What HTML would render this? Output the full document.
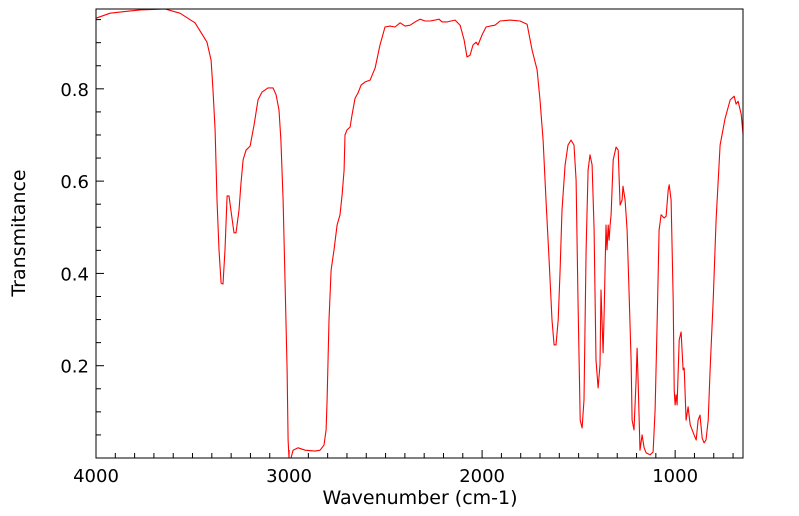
<!DOCTYPE html>
<html><head><meta charset="utf-8"><style>
html,body{margin:0;padding:0;background:#fff;}
svg{display:block;font-family:"DejaVu Sans","Liberation Sans",sans-serif;}
</style></head><body>
<svg id="chart" width="799" height="516" viewBox="0 0 799 516" xmlns="http://www.w3.org/2000/svg">
<rect x="0" y="0" width="799" height="516" fill="#fff"/>
<g id="ticks"></g>
<g id="labels"></g>
<polyline id="spectrum" fill="none" stroke="#ff0000" stroke-width="1.1" stroke-linejoin="round"/>
<rect x="96" y="9" width="647" height="449" fill="none" stroke="#000" stroke-width="1"/>
<text x="420" y="504" font-size="19" text-anchor="middle">Wavenumber (cm-1)</text>
<text transform="translate(25,233) rotate(-90)" font-size="19" text-anchor="middle">Transmitance</text>
</svg>
<script>
const wavenumbers=[4000,3927,3772,3642,3565,3487,3425,3404,3394,3383,3373,3363,3352,3342,3332,3321,3311,3301,3285,3275,3259,3249,3238,3223,3202,3181,3161,3140,3109,3083,3067,3052,3042,3031,3021,3010,3005,3000,2990,2979,2953,2917,2865,2839,2819,2808,2803,2793,2782,2767,2751,2736,2725,2715,2710,2700,2684,2674,2658,2643,2627,2606,2580,2554,2529,2503,2477,2451,2425,2399,2373,2347,2321,2295,2270,2244,2223,2207,2181,2161,2140,2114,2093,2078,2062,2047,2031,2021,2000,1979,1959,1933,1907,1855,1803,1767,1741,1715,1700,1684,1669,1653,1638,1627,1617,1606,1596,1586,1570,1555,1539,1524,1513,1503,1492,1482,1472,1461,1451,1441,1430,1420,1410,1399,1389,1384,1373,1368,1358,1353,1347,1342,1337,1332,1321,1306,1295,1290,1285,1275,1270,1259,1249,1239,1228,1223,1213,1202,1197,1192,1182,1171,1161,1150,1130,1114,1104,1093,1083,1073,1057,1047,1036,1031,1021,1010,1005,1000,995,990,979,969,959,953,943,933,922,902,891,881,871,860,850,840,829,819,803,788,767,741,715,694,684,674,658,648];
const transmittance=[.953,.964,.971,.973,.964,.943,.901,.862,.797,.711,.559,.451,.379,.377,.451,.568,.568,.537,.488,.488,.537,.596,.646,.667,.676,.722,.776,.793,.802,.802,.787,.754,.689,.559,.386,.191,.039,0,0,.017,.022,.017,.015,.017,.028,.061,.126,.299,.407,.451,.505,.527,.570,.624,.700,.711,.717,.743,.780,.791,.808,.815,.819,.845,.895,.934,.936,.934,.943,.936,.938,.945,.951,.947,.947,.949,.951,.945,.945,.947,.949,.938,.906,.869,.873,.895,.901,.895,.917,.934,.936,.938,.947,.949,.947,.940,.884,.841,.776,.689,.559,.429,.299,.245,.245,.299,.407,.537,.635,.678,.689,.678,.602,.342,.082,.065,.126,.451,.624,.657,.635,.494,.212,.152,.202,.364,.228,.310,.505,.451,.505,.472,.505,.527,.646,.674,.667,.602,.548,.559,.589,.559,.494,.364,.212,.082,.061,.169,.238,.169,.017,.050,.022,.011,.007,.013,.104,.299,.494,.527,.520,.524,.581,.592,.559,.342,.147,.115,.137,.115,.256,.273,.191,.195,.082,.111,.072,.050,.039,.082,.093,.043,.033,.039,.082,.191,.342,.516,.678,.736,.776,.784,.767,.773,.745,.700];
const xTickLabels=[4000,3000,2000,1000];
const yTickLabels=[0.2,0.4,0.6,0.8];
const L=96,R=743,T=9,B=458,XMAX=4000,XMIN=648.5,YMIN=0,YMAX=0.973;
function sx(w){return L+(XMAX-w)/(XMAX-XMIN)*(R-L);}
function sy(v){return B-(v-YMIN)/(YMAX-YMIN)*(B-T);}
const NS="http://www.w3.org/2000/svg";
const pl=document.getElementById('spectrum');
pl.setAttribute('points',wavenumbers.map((w,i)=>sx(w).toFixed(1)+','+sy(transmittance[i]).toFixed(1)).join(' '));
const tg=document.getElementById('ticks'),lg=document.getElementById('labels');
function line(x1,y1,x2,y2){const l=document.createElementNS(NS,'line');l.setAttribute('x1',x1);l.setAttribute('y1',y1);l.setAttribute('x2',x2);l.setAttribute('y2',y2);l.setAttribute('stroke','#000');l.setAttribute('stroke-width','1');


tg.appendChild(l);}
for(let w=4000;w>=700;w-=100){const x=sx(w);const major=(w%1000===0);line(x,B,x,B-(major?8:5));}
for(let k=1;k<=19;k++){const v=k*0.05;if(v>YMAX)break;const y=sy(v);const major=(k%4===0);line(L,y,L+(major?8:5),y);}
xTickLabels.forEach(w=>{const t=document.createElementNS(NS,'text');t.setAttribute('x',sx(w));t.setAttribute('y',B+24);t.setAttribute('font-size','18');t.setAttribute('text-anchor','middle');t.textContent=String(w);


lg.appendChild(t);});
yTickLabels.forEach(v=>{const t=document.createElementNS(NS,'text');t.setAttribute('x',L-7);t.setAttribute('y',sy(v)+7);t.setAttribute('font-size','18');t.setAttribute('text-anchor','end');t.textContent=v.toFixed(1);


lg.appendChild(t);});
</script>
</body></html>
